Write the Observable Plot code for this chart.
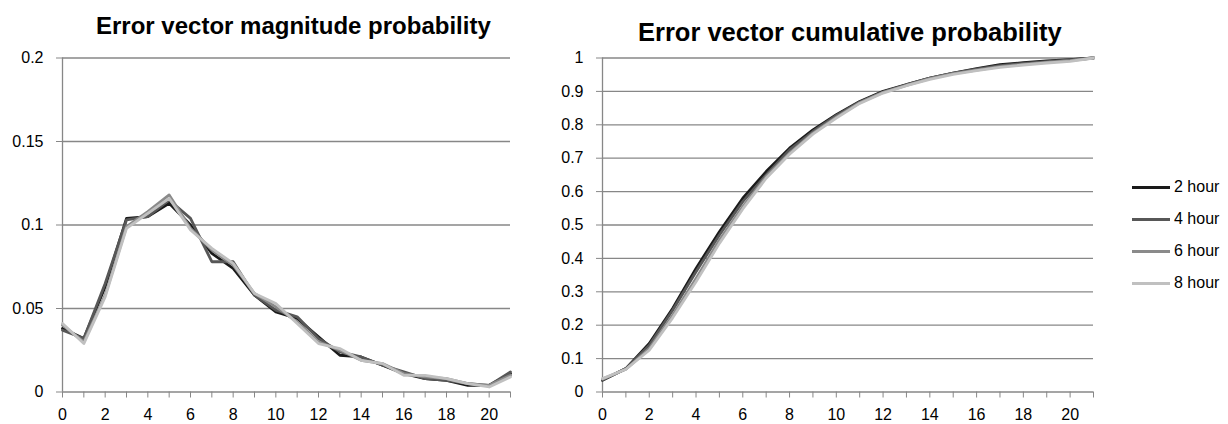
<!DOCTYPE html>
<html>
<head>
<meta charset="utf-8">
<script src="https://cdn.jsdelivr.net/npm/d3@7"></script>
<script src="https://cdn.jsdelivr.net/npm/@observablehq/plot@0.6"></script>
<style>
  body { margin: 0; background: #fff; font-family: "Liberation Sans", Arial, sans-serif; }
  #wrap { position: relative; width: 1228px; height: 424px; overflow: hidden; }
  .title { position: absolute; z-index: 2; font-weight: bold; font-size: 24px; color: #000; white-space: nowrap; }
  .panel { position: absolute; top: 0; z-index: 1; }
  .legend { position: absolute; z-index: 2; left: 1132px; top: 0; font-size: 16px; }
  .legend .item { position: absolute; left: 0; width: 100px; height: 20px; }
  .legend .swatch { position: absolute; left: 0; top: 9px; width: 38px; height: 3px; }
  .legend .label { position: absolute; left: 42px; top: 1px; white-space: nowrap; }
</style>
</head>
<body>
<div id="wrap">
  <div class="panel" id="left" style="left:0px;"></div>
  <div class="panel" id="right" style="left:540px;"></div>
  <div class="title" id="t1" style="left:96px; top:12px;">Error vector magnitude probability</div>
  <div class="title" id="t2" style="left:638px; top:18px; font-size:25.5px;">Error vector cumulative probability</div>
  <div class="legend" id="legend"></div>
</div>
<script>
// x categories (error vector magnitude bins)
var bins = [0, 1, 2, 3, 4, 5, 6, 7, 8, 9, 10, 11, 12, 13, 14, 15, 16, 17, 18, 19, 20, 21];
var seriesNames = ["2 hour", "4 hour", "6 hour", "8 hour"];
var seriesColors = ["#1a1a1a", "#575757", "#8a8a8a", "#c0c0c0"];

// probability per bin
var prob2h = [0.038, 0.032, 0.063, 0.104, 0.105, 0.113, 0.100, 0.083, 0.074, 0.058, 0.048, 0.044, 0.033, 0.022, 0.021, 0.016, 0.011, 0.008, 0.007, 0.004, 0.004, 0.011];
var prob4h = [0.037, 0.032, 0.065, 0.103, 0.105, 0.115, 0.104, 0.078, 0.078, 0.058, 0.049, 0.045, 0.032, 0.024, 0.021, 0.016, 0.012, 0.008, 0.007, 0.005, 0.004, 0.012];
var prob6h = [0.040, 0.030, 0.058, 0.099, 0.108, 0.118, 0.098, 0.085, 0.076, 0.059, 0.051, 0.042, 0.030, 0.025, 0.019, 0.017, 0.011, 0.009, 0.008, 0.005, 0.004, 0.010];
var prob8h = [0.041, 0.029, 0.057, 0.098, 0.107, 0.116, 0.097, 0.086, 0.077, 0.059, 0.053, 0.041, 0.029, 0.026, 0.019, 0.017, 0.010, 0.010, 0.008, 0.005, 0.003, 0.009];

// cumulative probability per bin
var cum2h = [0.035, 0.070, 0.145, 0.250, 0.370, 0.480, 0.580, 0.660, 0.730, 0.785, 0.830, 0.870, 0.900, 0.920, 0.940, 0.955, 0.968, 0.980, 0.986, 0.991, 0.995, 1.000];
var cum4h = [0.036, 0.070, 0.140, 0.245, 0.360, 0.470, 0.570, 0.650, 0.725, 0.780, 0.828, 0.868, 0.898, 0.920, 0.940, 0.955, 0.967, 0.977, 0.984, 0.989, 0.994, 1.000];
var cum6h = [0.039, 0.068, 0.130, 0.230, 0.340, 0.455, 0.555, 0.645, 0.715, 0.775, 0.823, 0.866, 0.897, 0.918, 0.938, 0.953, 0.964, 0.974, 0.981, 0.987, 0.992, 1.000];
var cum8h = [0.040, 0.068, 0.125, 0.222, 0.330, 0.445, 0.548, 0.640, 0.712, 0.772, 0.820, 0.864, 0.895, 0.917, 0.936, 0.951, 0.962, 0.972, 0.979, 0.985, 0.990, 1.000];

// tick values
var probTicks = [0, 0.05, 0.1, 0.15, 0.2];
var cumTicks = [0, 0.1, 0.2, 0.3, 0.4, 0.5, 0.6, 0.7, 0.8, 0.9, 1];

function tidy(list) {
  return list.flatMap(function (vals, i) {
    return bins.map(function (b, j) { return { x: b, y: vals[j], series: seriesNames[i] }; });
  });
}

function chart(rows, ticks, yMax, width, marginRight) {
  var grid = "#878787";
  return Plot.plot({
    width: width,
    height: 424,
    marginLeft: 62,
    marginRight: marginRight,
    marginTop: 57.5,
    marginBottom: 32.5,
    style: { fontFamily: "'Liberation Sans', Arial, sans-serif", fontSize: "16px", color: "#000", background: "transparent" },
    x: { domain: [0, 21] },
    y: { domain: [0, yMax] },
    color: { domain: seriesNames, range: seriesColors },
    marks: [
      Plot.ruleY(ticks, { stroke: grid, strokeWidth: 1.3 }),
      Plot.axisY({ ticks: ticks, tickSize: 6, tickPadding: 13, stroke: grid, tickFormat: d => String(+d.toFixed(2)), label: null, fill: "#000" }),
      Plot.axisX({ ticks: bins, tickSize: 6, tickPadding: 11, stroke: grid, tickFormat: d => d % 2 === 0 ? String(d) : "", label: null, fill: "#000" }),
      Plot.ruleX([0], { stroke: grid, strokeWidth: 1.3 }),
      Plot.line(rows, { x: "x", y: "y", z: "series", stroke: "series", strokeWidth: 2.8, strokeLinejoin: "round" })
    ]
  });
}

var left = chart(tidy([prob2h, prob4h, prob6h, prob8h]), probTicks, 0.2, 530, 20);
var right = chart(tidy([cum2h, cum4h, cum6h, cum8h]), cumTicks, 1, 572, 19);
d3.select("#left").append(() => left);
d3.select("#right").append(() => right);

var legend = d3.select("#legend");
seriesNames.forEach(function (name, i) {
  var item = legend.append("div").attr("class", "item").style("top", (177 + i * 32) + "px");
  item.append("div").attr("class", "swatch").style("background", seriesColors[i]);
  item.append("div").attr("class", "label").text(name);
});
</script>
</body>
</html>
